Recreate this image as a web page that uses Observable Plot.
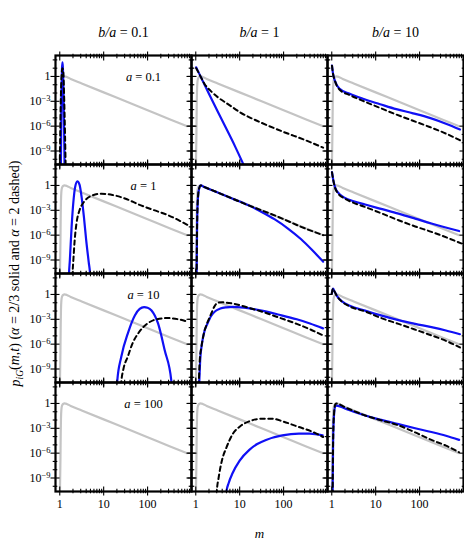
<!DOCTYPE html>
<html><head><meta charset="utf-8">
<script src="https://cdn.jsdelivr.net/npm/d3@7"></script>
<script src="https://cdn.jsdelivr.net/npm/@observablehq/plot@0.6"></script>
<style>body{margin:0;background:#fff} #chart{width:464px;height:545px}</style>
</head><body><div id="chart"></div>
<script>
// Facet categories
const baValues = ["0.1", "1", "10"];          // columns: b/a
const aValues = ["0.1", "1", "10", "100"];    // rows: a
const xTickLabels = [1, 10, 100];
const yTickLabels = [1, 1e-3, 1e-6, 1e-9];

// Curves as [log10 m, log10 p] pairs
const grayRef = [[0,-12],[0.015,-7],[0.022,-3.5],[0.028,-1.8],[0.036,-0.8],[0.05,-0.3],[0.075,-0.06],[0.11,0],[0.16,-0.06],[0.25,-0.3],[0.5,-0.84],[1.0,-1.92],[1.5,-3.0],[2.0,-4.08],[2.5,-5.16],[2.9,-6.0]];

// a = 0.1
const solid_a01_ba01 = [[0.025,-11],[0.04,-3],[0.05,0.8],[0.06,1.7],[0.07,1.2],[0.085,-2],[0.1,-7],[0.11,-11]];
const dashed_a01_ba01 = [[0.0,-11],[0.02,-4],[0.04,0.0],[0.06,1.0],[0.08,0.6],[0.1,-2.5],[0.12,-7],[0.135,-11]];
const solid_a01_ba1 = [[0.01,1.1],[0.1,0.1],[0.3,-2.1],[0.6,-5.3],[0.9,-8.5],[1.1,-10.8],[1.2,-12]];
const dashed_a01_ba1 = [[0.01,1.0],[0.1,0.1],[0.2,-0.9],[0.35,-1.8],[0.5,-2.5],[0.75,-3.4],[1.0,-4.3],[1.5,-5.6],[2.0,-6.7],[2.5,-7.7],[2.9,-8.6]];
const solid_a01_ba10 = [[0.005,1.3],[0.03,0.3],[0.07,-0.5],[0.18,-1.5],[0.41,-2.1],[0.71,-2.7],[1.1,-3.35],[1.47,-3.95],[1.85,-4.45],[2.23,-5.0],[2.6,-5.7],[2.92,-6.4]];
const dashed_a01_ba10 = [[0.005,1.3],[0.03,0.3],[0.07,-0.5],[0.18,-1.6],[0.41,-2.25],[0.71,-2.95],[1.1,-3.8],[1.47,-4.6],[1.85,-5.35],[2.23,-6.1],[2.6,-6.9],[2.92,-7.7]];

// a = 1
const solid_a1_ba01 = [[0.2,-12],[0.21,-10.7],[0.23,-9],[0.27,-5],[0.31,-2],[0.35,-0.2],[0.40,0.5],[0.45,0.1],[0.5,-1.5],[0.55,-3.8],[0.6,-6.5],[0.66,-9.3],[0.69,-10.7],[0.7,-12]];
const dashed_a1_ba01 = [[0.28,-12],[0.29,-10.7],[0.31,-9],[0.34,-6.6],[0.38,-4.6],[0.45,-3.0],[0.55,-2.0],[0.7,-1.3],[0.95,-1.0],[1.2,-1.15],[1.5,-1.6],[1.8,-2.3],[2.1,-2.9],[2.47,-3.6],[2.92,-4.8]];
const solid_a1_ba1 = [[0.015,-12],[0.02,-10.7],[0.03,-5],[0.05,-1.5],[0.08,-0.3],[0.11,0],[0.2,-0.2],[0.5,-0.85],[0.84,-1.6],[1.2,-2.4],[1.5,-3.2],[1.8,-4.1],[2.1,-5.2],[2.4,-6.5],[2.65,-7.8],[2.9,-9.2]];
const dashed_a1_ba1 = [[0.015,-12],[0.02,-10.7],[0.03,-5],[0.05,-1.5],[0.08,-0.3],[0.11,0.0],[0.2,-0.2],[0.5,-0.85],[0.84,-1.6],[1.2,-2.4],[1.5,-3.0],[1.97,-4.0],[2.4,-5.0],[2.9,-6.0]];
const solid_a1_ba10 = [[0.005,1.6],[0.04,0.5],[0.08,-0.3],[0.15,-0.9],[0.3,-1.5],[0.5,-1.9],[0.76,-2.3],[1.1,-2.8],[1.52,-3.4],[1.9,-4.0],[2.27,-4.6],[2.9,-5.5]];
const dashed_a1_ba10 = [[0.005,1.6],[0.04,0.5],[0.08,-0.35],[0.15,-1.0],[0.3,-1.6],[0.5,-2.1],[0.76,-2.6],[1.1,-3.3],[1.52,-4.2],[1.9,-4.95],[2.27,-5.6],[2.95,-7.0]];

// a = 10
const solid_a10_ba01 = [[1.29,-12],[1.31,-10.4],[1.40,-7.55],[1.56,-4.54],[1.71,-2.53],[1.82,-1.75],[1.92,-1.53],[2.0,-1.6],[2.09,-1.93],[2.24,-3.53],[2.39,-6.75],[2.54,-10.4],[2.56,-12]];
const dashed_a10_ba01 = [[1.38,-12],[1.40,-10.6],[1.45,-9],[1.55,-7.5],[1.65,-6],[1.8,-4.6],[2.0,-3.5],[2.2,-3.0],[2.45,-2.85],[2.7,-3.0],[2.92,-3.3]];
const solid_a10_ba1 = [[0.07,-12],[0.08,-10.6],[0.1,-8],[0.14,-6],[0.2,-4.4],[0.26,-3.6],[0.35,-2.6],[0.45,-2.0],[0.56,-1.7],[0.7,-1.55],[0.84,-1.5],[1.1,-1.6],[1.5,-1.95],[1.9,-2.45],[2.3,-3.0],[2.6,-3.5],[2.9,-4.1]];
const dashed_a10_ba1 = [[0.06,-12],[0.07,-10.6],[0.09,-8],[0.13,-6.3],[0.18,-4.8],[0.25,-3.6],[0.33,-2.6],[0.42,-1.5],[0.5,-1.0],[0.6,-0.95],[0.84,-1.1],[1.2,-1.6],[1.55,-2.15],[1.9,-2.8],[2.3,-3.55],[2.6,-4.2],[2.9,-4.95]];
const solid_a10_ba10 = [[0.0,0.1],[0.03,0.7],[0.06,0.4],[0.12,-0.2],[0.25,-0.9],[0.41,-1.35],[0.76,-1.95],[1.1,-2.5],[1.52,-3.1],[1.9,-3.55],[2.27,-3.95],[2.6,-4.35],[2.92,-4.8]];
const dashed_a10_ba10 = [[0.0,0.1],[0.03,0.7],[0.06,0.4],[0.12,-0.2],[0.25,-0.95],[0.41,-1.45],[0.76,-2.05],[1.1,-2.8],[1.52,-3.55],[1.9,-4.25],[2.27,-4.94],[2.6,-5.6],[2.92,-6.4]];

// a = 100
const solid_a100_ba01 = [];
const dashed_a100_ba01 = [];
const solid_a100_ba1 = [[0.69,-12],[0.70,-10.6],[0.75,-9.6],[0.84,-8.4],[1.0,-6.9],[1.22,-5.6],[1.4,-4.9],[1.6,-4.4],[1.97,-3.86],[2.35,-3.65],[2.6,-3.65],[2.89,-3.85]];
const dashed_a100_ba1 = [[0.47,-12],[0.48,-10.6],[0.52,-9],[0.6,-6.8],[0.7,-5.3],[0.84,-3.7],[1.0,-2.8],[1.2,-2.2],[1.5,-1.85],[1.75,-1.85],[2.0,-2.2],[2.35,-2.85],[2.65,-3.4],[2.9,-4.05]];
const solid_a100_ba10 = [[0.015,-12],[0.02,-10.6],[0.03,-5],[0.05,-1.5],[0.08,-0.35],[0.11,-0.25],[0.3,-0.6],[0.5,-1.0],[0.76,-1.45],[1.1,-1.95],[1.52,-2.5],[1.9,-3.0],[2.27,-3.45],[2.6,-3.9],[2.9,-4.4]];
const dashed_a100_ba10 = [[0.015,-12],[0.02,-10.6],[0.03,-5],[0.05,-1.4],[0.08,-0.1],[0.11,0.0],[0.3,-0.45],[0.5,-0.9],[0.76,-1.45],[1.1,-2.0],[1.52,-2.65],[1.9,-3.5],[2.27,-4.4],[2.6,-5.1],[2.9,-5.9]];

const panelCurves = [
  ["0.1","0.1",solid_a01_ba01,dashed_a01_ba01],["0.1","1",solid_a01_ba1,dashed_a01_ba1],["0.1","10",solid_a01_ba10,dashed_a01_ba10],
  ["1","0.1",solid_a1_ba01,dashed_a1_ba01],["1","1",solid_a1_ba1,dashed_a1_ba1],["1","10",solid_a1_ba10,dashed_a1_ba10],
  ["10","0.1",solid_a10_ba01,dashed_a10_ba01],["10","1",solid_a10_ba1,dashed_a10_ba1],["10","10",solid_a10_ba10,dashed_a10_ba10],
  ["100","0.1",solid_a100_ba01,dashed_a100_ba01],["100","1",solid_a100_ba1,dashed_a100_ba1],["100","10",solid_a100_ba10,dashed_a100_ba10]
];

const toRows = (pairs, a, ba) => pairs.map(([lm, lp]) => ({m: 10 ** lm, p: 10 ** lp, a, ba}));
const grayData = aValues.flatMap(a => baValues.flatMap(ba => toRows(grayRef, a, ba)));
const solidData = panelCurves.flatMap(([a, ba, s]) => toRows(s, a, ba));
const dashedData = panelCurves.flatMap(([a, ba, , d]) => toRows(d, a, ba));
const panelLabels = aValues.map(a => ({a, ba: baValues[0], label: `a = ${a}`}));

const xMinor = [1, 10, 100].flatMap(d => d3.range(2, 10).map(k => k * d));
const yMinor = d3.range(-10, 3).filter(e => e % 3 !== 0).map(e => 10 ** e);

function frameTicks(scale, ticks, len) {
  const anchors = scale === "x" ? ["top", "bottom"] : ["left", "right"];
  const axis = scale === "x" ? Plot.axisX : Plot.axisY;
  return anchors.flatMap(anchor => [len, -len].map(s =>
    axis(ticks, {anchor, tickSize: s, fill: "none", label: null, facetAnchor: null, strokeWidth: 1.1, stroke: "black"})));
}

const chart = Plot.plot({
  width: 464, height: 545,
  marginLeft: 54, marginRight: 1, marginTop: 54, marginBottom: 54,
  style: {fontFamily: "'Liberation Serif', 'Times New Roman', serif", color: "black", background: "white"},
  x: {type: "log", domain: [0.8, 1000]},
  y: {type: "log", domain: [10 ** -10.63, 10 ** 2.53]},
  fx: {domain: baValues, padding: 0},
  fy: {domain: aValues, padding: 0, axis: null},
  marks: [
    Plot.line(grayData, {x: "m", y: "p", fx: "ba", fy: "a", stroke: "#c4c4c4", strokeWidth: 2.2, curve: "monotone-x", clip: true}),
    Plot.line(solidData, {x: "m", y: "p", fx: "ba", fy: "a", stroke: "#1010f5", strokeWidth: 2.2, curve: "monotone-x", clip: true}),
    Plot.line(dashedData, {x: "m", y: "p", fx: "ba", fy: "a", stroke: "black", strokeWidth: 2, strokeDasharray: "4.5,3.5", curve: "monotone-x", clip: true}),
    Plot.text(panelLabels, {fx: "ba", fy: "a", text: "label", frameAnchor: "top", dx: 20, dy: 21, fontSize: 12.5, lineAnchor: "middle"}),
    ...frameTicks("x", xTickLabels, 4.5),
    ...frameTicks("x", xMinor, 2.3),
    ...frameTicks("y", yTickLabels, 4.5),
    ...frameTicks("y", yMinor, 2.3),
    Plot.frame({stroke: "black", strokeWidth: 2.2}),
    Plot.axisY(yTickLabels, {anchor: "left", tickSize: 0, tickPadding: 5, fontSize: 12,
      tickFormat: d => d === 1 ? "1" : `10^${Math.round(Math.log10(d))}`,
      label: "p_iG(m,t) (α = 2/3 solid and α = 2 dashed)", labelAnchor: "center", labelOffset: 45}),
    Plot.axisX(xTickLabels, {anchor: "bottom", tickSize: 0, tickPadding: 8, fontSize: 12,
      tickFormat: d => String(d), label: "m", labelAnchor: "center", labelOffset: 46}),
    Plot.axisFx({anchor: "top", tickSize: 0, tickPadding: 19, fontSize: 14, tickFormat: d => `b/a = ${d}`, label: null})
  ]
});
document.getElementById("chart").appendChild(chart);

// Rich text styling (italics, sub/superscripts)
function rich(el, parts) {
  const t = d3.select(el);
  t.selectAll("*").remove();
  t.text(null);
  for (const p of parts) {
    const s = t.append("tspan").text(p.t);
    if (p.i) s.attr("font-style", "italic");
    if (p.size) s.attr("font-size", p.size);
    if (p.dy) s.attr("dy", p.dy);
  }
}
d3.select(chart).selectAll("text").each(function () {
  const s = this.textContent;
  let m;
  if (/^b\/a = /.test(s)) {
    rich(this, [{t: "b/a", i: true}, {t: s.slice(3)}]);
  } else if (/^a = /.test(s)) {
    rich(this, [{t: "a", i: true}, {t: s.slice(1)}]);
  } else if ((m = s.match(/^10\^(-?\d+)$/))) {
    rich(this, [{t: "10"}, {t: "\u2212" + m[1].replace("-", ""), size: "8.5px", dy: "-0.45em"}]);
  } else if (/dashed/.test(s)) {
    this.setAttribute("font-size", "14px");
    rich(this, [{t: "p", i: true}, {t: "iG", i: true, size: "9.5px", dy: "0.3em"}, {t: "(", dy: "-0.3em"}, {t: "m", i: true}, {t: ","}, {t: "t", i: true},
      {t: ") ("}, {t: "α", i: true}, {t: " = 2/3 solid and "}, {t: "α", i: true}, {t: " = 2 dashed)"}]);
  } else if (s.trim() === "m" || /^m\s*→?$/.test(s.trim())) {
    this.setAttribute("font-size", "13px");
    rich(this, [{t: "m", i: true}]);
  }
});
</script>
</body></html>
